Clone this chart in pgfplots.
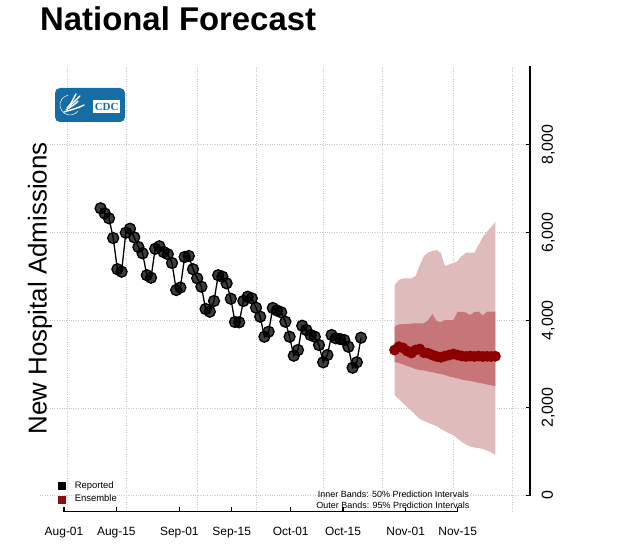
\documentclass[border=0pt]{standalone}
\usepackage{pgfplots}
\pgfplotsset{compat=1.18}
\usepackage{pgfplotstable}
\usepgfplotslibrary{fillbetween}
\usepackage{fontspec}
\setmainfont{Liberation Sans}
\newfontfamily\serifbf{Liberation Serif}

\definecolor{outerband}{RGB}{224,187,188}
\definecolor{innerband}{RGB}{198,118,120}
\definecolor{ensred}{RGB}{139,0,0}
\definecolor{legred}{RGB}{139,12,12}
\definecolor{cdcblue}{RGB}{22,108,164}
\definecolor{gridgray}{RGB}{200,200,200}

\pgfplotstableread{
d v
8 6550
9 6431
10 6321
11 5872
12 5161
13 5104
14 5993
15 6084
16 5888
17 5667
18 5523
19 5024
20 4967
21 5626
22 5683
23 5553
24 5503
25 5302
26 4686
27 4743
28 5439
29 5462
30 5161
31 4953
32 4762
33 4253
34 4192
35 4436
36 5024
37 4990
38 4839
39 4488
40 3957
41 3950
42 4436
43 4534
44 4497
45 4283
46 4078
47 3621
48 3735
49 4276
50 4219
51 4178
52 3963
53 3621
54 3188
55 3318
56 3872
57 3774
58 3660
59 3621
60 3432
61 3038
62 3204
63 3660
64 3585
65 3569
66 3546
67 3393
68 2914
69 3038
70 3599
}\reported

\pgfplotstableread{
d med lo50 hi50 lo95 hi95
78 3318 3051 3849 2292 4800
79 3393 3022 3900 2201 4914
80 3364 2987 3911 2109 4953
81 3295 2953 3911 2018 4953
82 3250 2919 3922 1927 4953
83 3318 2885 3927 1836 5006
84 3341 2862 3927 1745 5257
85 3257 2851 3927 1699 5462
86 3243 2828 4002 1660 5542
87 3204 2810 4139 1619 5576
88 3170 2787 3979 1585 5599
89 3152 2771 3957 1517 5530
90 3181 2748 4002 1471 5234
91 3204 2714 4002 1414 5268
92 3227 2696 4002 1380 5302
93 3204 2668 4185 1300 5348
94 3181 2645 4192 1220 5462
95 3170 2623 4173 1163 5537
96 3181 2611 4116 1117 5537
97 3170 2593 4185 1095 5537
98 3181 2572 4196 1083 5713
99 3170 2554 4105 1060 5895
100 3175 2531 4192 1026 6016
101 3170 2513 4192 981 6123
102 3175 2497 4192 924 6244
}\forecast

\begin{document}
\begin{tikzpicture}
\begin{axis}[
  at={(40bp,44.3bp)}, anchor=south west,
  scale only axis, width=490bp, height=445.7bp,
  xmin=-6.43, xmax=110.24, ymin=-369, ymax=9795,
  clip=false,
  axis x line*=bottom, axis y line*=right,
  axis line style={draw=none},
  xtick={-0.714,11.74,26.74,39.21,53.26,65.71,80.64,93.02},
  xticklabels={Aug-01,Aug-15,Sep-01,Sep-15,Oct-01,Oct-15,Nov-01,Nov-15},
  ytick={0,2000,4000,6000,8000},
  yticklabel pos=right,
  tick align=inside,
  major tick length=4.5bp,
  tick style={draw=black, line width=1.1bp},
  ymajorgrids,
  extra x ticks={0,14,31,45,61,75,92,106},
  extra x tick labels={},
  extra x tick style={grid=major, major tick length=0pt},
  grid style={gridgray, draw=gridgray, dotted, line width=0.6bp},
  /pgf/number format/1000 sep={,},
  /pgf/number format/assume math mode=true,
  xticklabel style={font=\fontsize{12}{14}\selectfont, inner sep=0pt, yshift=-15bp},
  yticklabel style={font=\fontsize{16}{18}\selectfont, rotate=90, anchor=north, inner sep=0pt},
  yticklabel shift=11.5bp,
  legend style={at={(axis cs:-2.1,-230)}, anchor=south west, draw=none, fill=none,
    font=\fontsize{9.5}{11}\selectfont, inner sep=0pt, row sep=1.5bp},
  legend cell align=left,
  legend image code/.code={\fill[#1] (0bp,-3.5bp) rectangle (7bp,3.5bp);},
]
% bands
\addplot[draw=none, name path=ohi, forget plot] table[x=d, y=hi95] {\forecast};
\addplot[draw=none, name path=olo, forget plot] table[x=d, y=lo95] {\forecast};
\addplot[outerband, forget plot] fill between[of=ohi and olo];
\addplot[draw=none, name path=ihi, forget plot] table[x=d, y=hi50] {\forecast};
\addplot[draw=none, name path=ilo, forget plot] table[x=d, y=lo50] {\forecast};
\addplot[innerband, forget plot] fill between[of=ihi and ilo];
% reported
\addplot[black, line width=1.3bp, mark=*, mark size=5.5bp,
  mark options={draw=none, fill=black, fill opacity=0.76}, forget plot]
  table[x=d, y=v] {\reported};
% ensemble median
\addplot[ensred, line width=2bp, mark=*, mark size=4.4bp,
  mark options={draw=none, fill=ensred}, forget plot]
  table[x=d, y=med] {\forecast};
% axis lines
\draw[black, line width=1.3bp] (axis cs:-0.714,-369) -- (axis cs:93.02,-369);
\draw[black, line width=1.3bp] (axis cs:110.24,0) -- (axis cs:110.24,9795);
% tick marks
\draw[black, line width=1.1bp] (axis cs:-0.714,-369) -- ++(0bp,4.5bp);
\draw[black, line width=1.1bp] (axis cs:11.74,-369) -- ++(0bp,4.5bp);
\draw[black, line width=1.1bp] (axis cs:26.74,-369) -- ++(0bp,4.5bp);
\draw[black, line width=1.1bp] (axis cs:39.21,-369) -- ++(0bp,4.5bp);
\draw[black, line width=1.1bp] (axis cs:53.26,-369) -- ++(0bp,4.5bp);
\draw[black, line width=1.1bp] (axis cs:65.71,-369) -- ++(0bp,4.5bp);
\draw[black, line width=1.1bp] (axis cs:80.64,-369) -- ++(0bp,4.5bp);
\draw[black, line width=1.1bp] (axis cs:93.02,-369) -- ++(0bp,4.5bp);
\draw[black, line width=1.1bp] (axis cs:110.24,0) -- ++(-4.5bp,0bp);
\draw[black, line width=1.1bp] (axis cs:110.24,2000) -- ++(-4.5bp,0bp);
\draw[black, line width=1.1bp] (axis cs:110.24,4000) -- ++(-4.5bp,0bp);
\draw[black, line width=1.1bp] (axis cs:110.24,6000) -- ++(-4.5bp,0bp);
\draw[black, line width=1.1bp] (axis cs:110.24,8000) -- ++(-4.5bp,0bp);
\addlegendimage{black}
\addlegendentry{\hspace{7bp}Reported}
\addlegendimage{legred}
\addlegendentry{\hspace{7bp}Ensemble}
\end{axis}
% title
\node[anchor=base west, font=\bfseries\fontsize{33}{36}\selectfont, inner sep=0pt] at (40bp,525.5bp) {National Forecast};
% y label
\node[rotate=90, anchor=base, font=\fontsize{26}{30}\selectfont, inner sep=0pt] at (46.5bp,267.5bp) {New Hospital Admissions};
% annotation
\node[anchor=east, inner sep=0pt, font=\fontsize{9}{10}\selectfont] at (469bp,62bp) {Inner Bands: 50\% Prediction Intervals};
\node[anchor=east, inner sep=0pt, font=\fontsize{9}{10}\selectfont] at (469.5bp,50.3bp) {Outer Bands: 95\% Prediction Intervals};
% CDC logo
\fill[cdcblue, rounded corners=5bp] (55bp,434bp) rectangle (125bp,468bp);
\fill[white] (93.3bp,442.7bp) rectangle (120bp,456bp);
\node[text=cdcblue, font=\serifbf\bfseries\fontsize{11}{12}\selectfont, inner sep=0pt] at (106.7bp,449.2bp) {CDC};
\draw[white, line width=0.5bp] (70bp,451bp) ++(100:10bp) arc (100:320:10bp);
\draw[white, line width=1.4bp, line cap=round] (64bp,444bp) .. controls (70bp,446bp) and (76bp,447bp) .. (84bp,451bp);
\draw[white, line width=1.4bp, line cap=round] (67bp,448bp) .. controls (72bp,452bp) and (76bp,456bp) .. (80bp,460bp);
\draw[white, line width=1.4bp, line cap=round] (69bp,450bp) .. controls (73bp,455bp) and (74bp,459bp) .. (76bp,462bp);
\draw[white, line width=1.4bp, line cap=round] (66bp,446bp) .. controls (70bp,449bp) and (76bp,452bp) .. (78bp,455bp);
\pgfresetboundingbox
\useasboundingbox (0,0) rectangle (635bp,556bp);
\end{tikzpicture}
\end{document}
